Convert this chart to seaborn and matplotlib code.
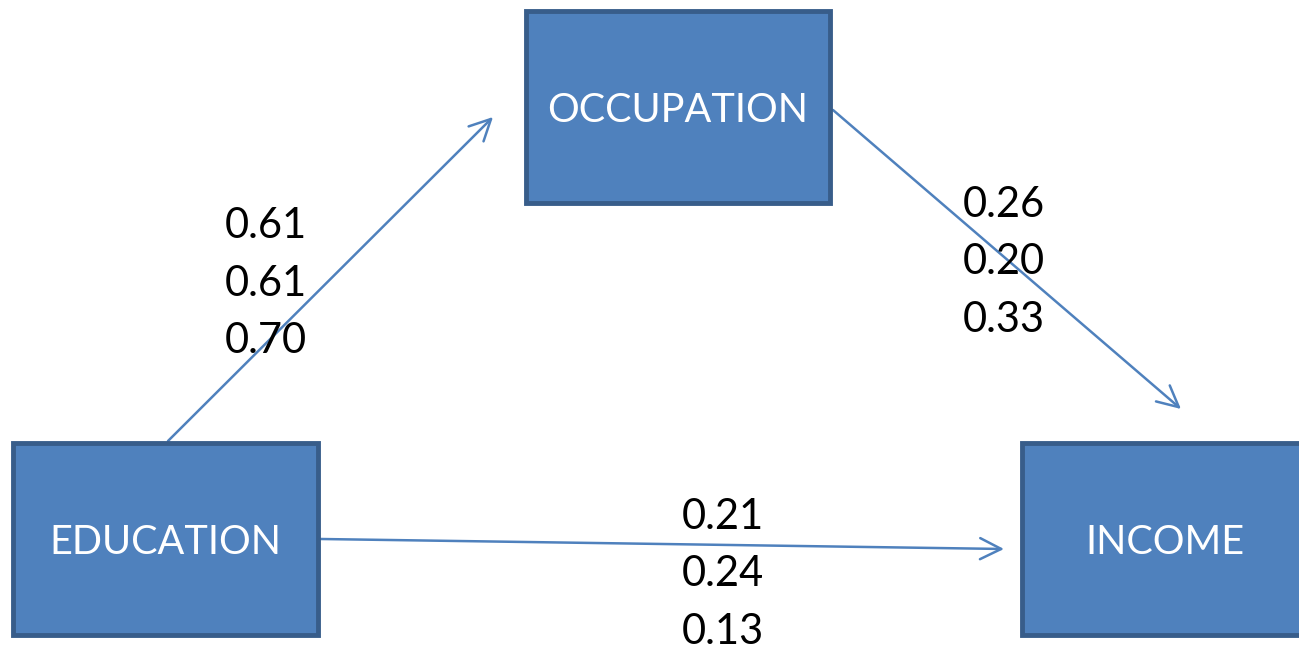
import matplotlib
matplotlib.use("Agg")
import matplotlib.pyplot as plt
import seaborn as sns
from matplotlib.patches import Rectangle

sns.set_theme(style="white")
plt.rcParams['font.family'] = ['Lato', 'DejaVu Sans']

# nodes of the path diagram
nodes = ['EDUCATION', 'OCCUPATION', 'INCOME']
# path coefficients (three estimates per path)
edu_occ = ['0.61', '0.61', '0.70']
occ_inc = ['0.26', '0.20', '0.33']
edu_inc = ['0.21', '0.24', '0.13']

fill = '#4F81BD'
edge = '#385D8A'

fig = plt.figure(figsize=(12.99, 6.46), dpi=100)
ax = fig.add_axes([0, 0, 1, 1])
ax.set_xlim(0, 1299)
ax.set_ylim(646, 0)
ax.axis('off')

# box layout: x, y, w, h (pixel-like units)
boxes = {
    'EDUCATION': (13, 443, 305, 192),
    'OCCUPATION': (526, 11, 304, 192),
    'INCOME': (1022, 443, 320, 192),
}
for name in nodes:
    x, y, w, h = boxes[name]
    ax.add_patch(Rectangle((x, y), w, h, facecolor=fill, edgecolor=edge, lw=3.5, zorder=2))
    cx = x + w / 2 if name != 'INCOME' else 1165
    ax.text(cx, y + h / 2 + 4, name, color='white', fontsize=28.5, ha='center', va='center', zorder=3)

arrow = dict(arrowstyle='->', color=fill, lw=1.8, mutation_scale=38, shrinkA=0, shrinkB=0)
ax.annotate('', xy=(493, 117), xytext=(168, 441), arrowprops=arrow, zorder=1)
ax.annotate('', xy=(1181, 409), xytext=(833, 110), arrowprops=arrow, zorder=1)
ax.annotate('', xy=(1004, 549), xytext=(321, 539), arrowprops=arrow, zorder=1)

for vals, x0, y0 in [(edu_occ, 225, 226), (occ_inc, 963, 205), (edu_inc, 682, 517)]:
    for i, v in enumerate(vals):
        ax.text(x0, y0 + i * 57.5, v, fontsize=30, color='black', ha='left', va='center')

fig.savefig('out.png', dpi=100)
